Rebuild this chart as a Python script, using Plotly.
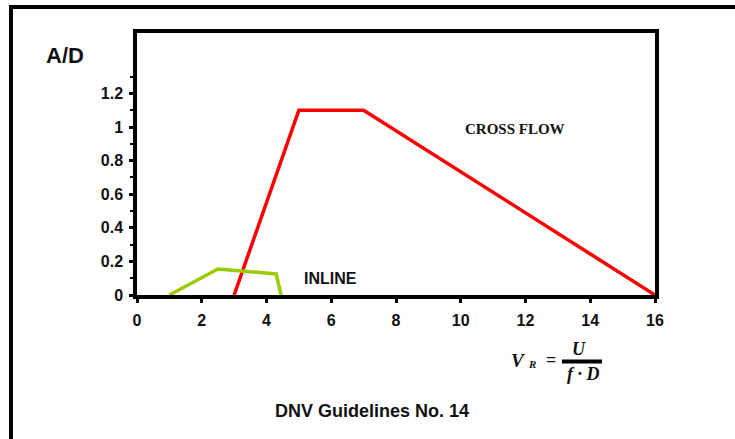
import plotly.graph_objects as go

# Response amplitude curves (A/D versus reduced velocity V_R)
cross_flow_vr = [3, 5, 7, 16]
cross_flow_ad = [0, 1.1, 1.1, 0]

inline_vr = [1, 2.5, 4.3, 4.45]
inline_ad = [0, 0.155, 0.125, 0]

x_tick_vals = [0, 2, 4, 6, 8, 10, 12, 14, 16]
y_tick_vals = [0, 0.2, 0.4, 0.6, 0.8, 1.0, 1.2]
y_tick_text = ["0", "0.2", "0.4", "0.6", "0.8", "1", "1.2"]

W, H = 735, 439
L, R, T, B = 137, 655, 33, 295  # plot area edges in pixels


def px(x):
    return (x - L) / (R - L)


def py(y):
    return (B - y) / (B - T)


fig = go.Figure()
fig.add_trace(go.Scatter(x=cross_flow_vr, y=cross_flow_ad, mode="lines",
                         line=dict(color="#ff0000", width=3.5), hoverinfo="skip"))
fig.add_trace(go.Scatter(x=inline_vr, y=inline_ad, mode="lines",
                         line=dict(color="#99cc00", width=3.5), hoverinfo="skip"))

tick_font = dict(family="Liberation Sans, Arial", size=16, color="#111111", weight="bold")

fig.update_layout(
    width=W, height=H,
    margin=dict(l=L, r=W - R, t=T, b=H - B),
    paper_bgcolor="white", plot_bgcolor="white",
    showlegend=False,
    font=dict(family="Liberation Sans, Arial", color="#111111"),
    xaxis=dict(range=[0, 16], tickvals=x_tick_vals,
               ticks="outside", ticklen=4, tickwidth=3, tickcolor="black",
               showline=True, linewidth=3.5, linecolor="black", mirror=True,
               showgrid=False, zeroline=False,
               tickfont=tick_font, ticklabelstandoff=4),
    yaxis=dict(range=[0, 262 / 168], tickvals=y_tick_vals, ticktext=y_tick_text,
               ticks="outside", ticklen=4, tickwidth=3, tickcolor="black",
               minor=dict(tickvals=[0.1, 0.3, 0.5, 0.7, 0.9, 1.1, 1.3],
                          ticks="outside", ticklen=3, tickwidth=2, tickcolor="black"),
               showline=True, linewidth=3.5, linecolor="black", mirror=True,
               showgrid=False, zeroline=False,
               tickfont=tick_font, ticklabelstandoff=3),
)

# outer frame (top and left edges)
fig.add_shape(type="line", xref="paper", yref="paper",
              x0=px(9), y0=py(7), x1=px(740), y1=py(7),
              line=dict(color="black", width=4))
fig.add_shape(type="line", xref="paper", yref="paper",
              x0=px(11), y0=py(5), x1=px(11), y1=py(445),
              line=dict(color="black", width=4))

bold_sans = dict(family="Liberation Sans, Arial", color="#111111", weight="bold")
serif_bold = dict(family="Liberation Serif, Times New Roman", color="#111111", weight="bold")


def paper_text(x, y, text, font):
    fig.add_annotation(x=px(x), y=py(y), xref="paper", yref="paper", showarrow=False,
                       xanchor="center", yanchor="middle", text=text, font=font)


paper_text(65, 55, "A/D", dict(size=22, **bold_sans))
paper_text(372, 411, "DNV Guidelines No. 14", dict(size=18, **bold_sans))

fig.add_annotation(x=11.67, y=0.99, showarrow=False, xanchor="center", yanchor="middle",
                   text="CROSS FLOW", font=dict(size=15, **serif_bold))
fig.add_annotation(x=5.99, y=0.10, showarrow=False, xanchor="center", yanchor="middle",
                   text="INLINE", font=dict(size=16, **bold_sans))

# reduced velocity definition: V_R = U / (f · D)
paper_text(518, 360, "<i>V</i>", dict(size=19, **serif_bold))
paper_text(532, 364, "<i>R</i>", dict(size=11, **serif_bold))
paper_text(551, 360, "=", dict(size=18, **serif_bold))
fig.add_shape(type="line", xref="paper", yref="paper",
              x0=px(562), y0=py(361.5), x1=px(602), y1=py(361.5),
              line=dict(color="black", width=4))
paper_text(579, 349, "<i>U</i>", dict(size=18, **serif_bold))
paper_text(583, 374, "<i>f · D</i>", dict(size=18, **serif_bold))

fig.write_html("out.html")
